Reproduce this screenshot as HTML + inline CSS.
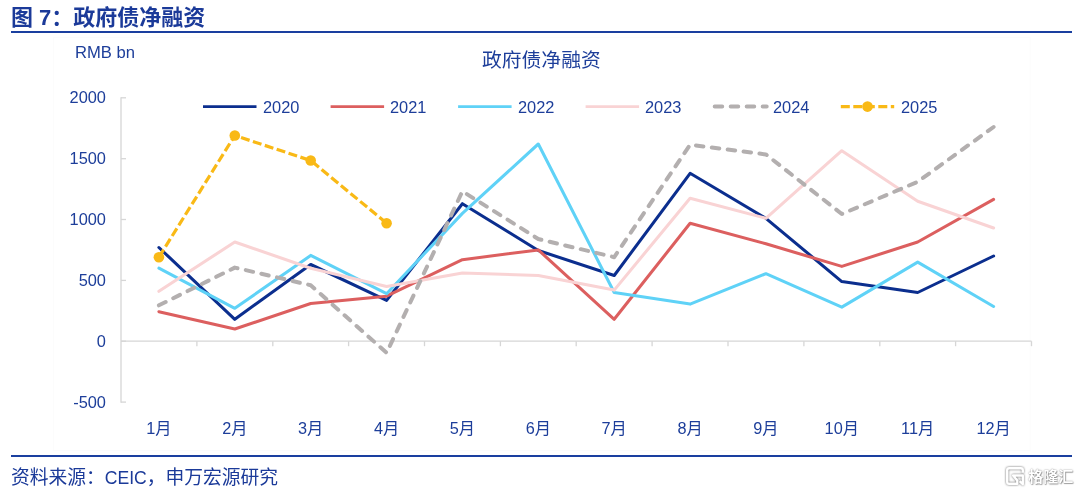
<!DOCTYPE html>
<html lang="zh"><head><meta charset="utf-8"><title>图 7：政府债净融资</title>
<style>
html,body{margin:0;padding:0;background:#fff;}
body{width:1080px;height:493px;position:relative;overflow:hidden;font-family:"Liberation Sans","Noto Sans CJK SC",sans-serif;color:#1d3e9a;}
.t{position:absolute;white-space:nowrap;line-height:1;}
.title{left:11px;top:6.5px;font-size:22px;font-weight:bold;color:#1b3a99;}
.rule{position:absolute;left:11px;width:1061.4px;height:2.2px;background:#1a3f9f;}
.yl{font-size:15.7px;width:60px;text-align:right;left:45.7px;transform:scaleX(1.045);transform-origin:100% 50%;}
.xl{font-size:16.3px;width:60px;text-align:center;}
.lg{font-size:15.7px;transform:scaleX(1.045);transform-origin:0 50%;}
.src{left:11px;top:469.1px;font-size:18.75px;color:#1b3a99;}
.wm{left:1028.3px;top:468.8px;font-size:15px;color:#fff;text-shadow:0 0 1.5px rgba(0,0,0,.55),0.6px 0.6px 1px rgba(0,0,0,.3);font-weight:bold;}
</style></head><body>
<div class="t title">图 7：政府债净融资</div>
<div class="rule" style="top:30.9px"></div>
<div class="rule" style="top:455px"></div>
<svg width="1080" height="493" viewBox="0 0 1080 493" style="position:absolute;left:0;top:0">
<rect x="53.5" y="37.5" width="976.5" height="413" fill="none" stroke="#fcfcfc" stroke-width="1"/>
<g stroke="#d6d6d6" stroke-width="1.3" fill="none">
<line x1="121.0" y1="97.2" x2="121.0" y2="402.7"/>
<line x1="121.0" y1="97.8" x2="126.0" y2="97.8"/>
<line x1="121.0" y1="158.7" x2="126.0" y2="158.7"/>
<line x1="121.0" y1="219.5" x2="126.0" y2="219.5"/>
<line x1="121.0" y1="280.4" x2="126.0" y2="280.4"/>
<line x1="121.0" y1="341.2" x2="126.0" y2="341.2"/>
<line x1="121.0" y1="402.1" x2="126.0" y2="402.1"/>
<line x1="121.0" y1="341.2" x2="1031.5" y2="341.2"/>
<line x1="196.9" y1="341.2" x2="196.9" y2="346.2"/>
<line x1="272.8" y1="341.2" x2="272.8" y2="346.2"/>
<line x1="348.6" y1="341.2" x2="348.6" y2="346.2"/>
<line x1="424.5" y1="341.2" x2="424.5" y2="346.2"/>
<line x1="500.4" y1="341.2" x2="500.4" y2="346.2"/>
<line x1="576.2" y1="341.2" x2="576.2" y2="346.2"/>
<line x1="652.1" y1="341.2" x2="652.1" y2="346.2"/>
<line x1="728.0" y1="341.2" x2="728.0" y2="346.2"/>
<line x1="803.9" y1="341.2" x2="803.9" y2="346.2"/>
<line x1="879.8" y1="341.2" x2="879.8" y2="346.2"/>
<line x1="955.6" y1="341.2" x2="955.6" y2="346.2"/>
<line x1="1031.5" y1="341.2" x2="1031.5" y2="346.2"/>
</g>
<polyline points="158.9,247.5 234.8,319.3 310.7,264.5 386.6,300.4 462.4,203.7 538.3,250.5 614.2,275.5 690.1,173.3 765.9,218.3 841.8,281.6 917.7,292.5 993.6,256.0" fill="none" stroke="#0b2e8e" stroke-width="3.05" stroke-linejoin="round" stroke-linecap="round"/>
<polyline points="158.9,311.7 234.8,329.0 310.7,303.5 386.6,296.2 462.4,259.7 538.3,249.9 614.2,319.3 690.1,223.2 765.9,243.8 841.8,266.4 917.7,242.0 993.6,199.4" fill="none" stroke="#dc5f5f" stroke-width="3.05" stroke-linejoin="round" stroke-linecap="round"/>
<polyline points="158.9,268.2 234.8,308.3 310.7,255.4 386.6,293.7 462.4,213.4 538.3,144.0 614.2,292.5 690.1,304.1 765.9,273.7 841.8,307.1 917.7,262.1 993.6,306.5" fill="none" stroke="#5fd2f7" stroke-width="3.05" stroke-linejoin="round" stroke-linecap="round"/>
<polyline points="158.9,291.3 234.8,242.0 310.7,268.2 386.6,286.4 462.4,273.0 538.3,275.5 614.2,290.1 690.1,198.2 765.9,218.3 841.8,150.7 917.7,201.2 993.6,228.0" fill="none" stroke="#f9d3d4" stroke-width="3.05" stroke-linejoin="round" stroke-linecap="round"/>
<polyline points="158.9,305.3 234.8,267.6 310.7,285.2 386.6,352.8 462.4,191.3 538.3,239.0 614.2,257.2 690.1,144.7 765.9,154.4 841.8,214.0 917.7,181.8 993.6,127.0" fill="none" stroke="#b3afaf" stroke-width="4" stroke-dasharray="7.5 8.5" stroke-linecap="round" stroke-linejoin="round"/>
<polyline points="158.9,257.2 234.8,135.5 310.7,160.5 386.6,223.2" fill="none" stroke="#f9b916" stroke-width="3.2" stroke-dasharray="9 3.5" stroke-linejoin="round"/>
<circle cx="158.9" cy="257.2" r="5.3" fill="#f9b916"/>
<circle cx="234.8" cy="135.5" r="5.3" fill="#f9b916"/>
<circle cx="310.7" cy="160.5" r="5.3" fill="#f9b916"/>
<circle cx="386.6" cy="223.2" r="5.3" fill="#f9b916"/>
<line x1="203.0" y1="106.6" x2="256.5" y2="106.6" stroke="#0b2e8e" stroke-width="2.9"/>
<line x1="330.6" y1="106.6" x2="384.1" y2="106.6" stroke="#dc5f5f" stroke-width="2.9"/>
<line x1="458.1" y1="106.6" x2="511.6" y2="106.6" stroke="#5fd2f7" stroke-width="2.9"/>
<line x1="585.6" y1="106.6" x2="639.1" y2="106.6" stroke="#f9d3d4" stroke-width="2.9"/>
<line x1="714.7" y1="106.6" x2="766.7" y2="106.6" stroke="#b3afaf" fill="none" stroke-width="4" stroke-dasharray="7.5 8.5" stroke-linecap="round" stroke-linejoin="round"/>
<line x1="840.8" y1="106.6" x2="894.2" y2="106.6" stroke="#f9b916" fill="none" stroke-width="3.2" stroke-dasharray="9 3.5" stroke-linejoin="round"/>
<circle cx="867.5" cy="106.6" r="5.3" fill="#f9b916"/>
</svg>
<div class="t" style="left:75px;top:45.2px;font-size:15.7px;transform:scaleX(1.06);transform-origin:0 50%">RMB bn</div>
<div class="t" style="left:482px;top:50.5px;font-size:19.8px">政府债净融资</div>
<div class="t yl" style="top:90.3px">2000</div>
<div class="t yl" style="top:151.2px">1500</div>
<div class="t yl" style="top:212.0px">1000</div>
<div class="t yl" style="top:272.9px">500</div>
<div class="t yl" style="top:333.7px">0</div>
<div class="t yl" style="top:394.6px">-500</div>
<div class="t xl" style="left:128.9px;top:419.5px">1月</div>
<div class="t xl" style="left:204.8px;top:419.5px">2月</div>
<div class="t xl" style="left:280.7px;top:419.5px">3月</div>
<div class="t xl" style="left:356.6px;top:419.5px">4月</div>
<div class="t xl" style="left:432.4px;top:419.5px">5月</div>
<div class="t xl" style="left:508.3px;top:419.5px">6月</div>
<div class="t xl" style="left:584.2px;top:419.5px">7月</div>
<div class="t xl" style="left:660.1px;top:419.5px">8月</div>
<div class="t xl" style="left:735.9px;top:419.5px">9月</div>
<div class="t xl" style="left:811.8px;top:419.5px">10月</div>
<div class="t xl" style="left:887.7px;top:419.5px">11月</div>
<div class="t xl" style="left:963.6px;top:419.5px">12月</div>
<div class="t lg" style="left:262.8px;top:99.5px">2020</div>
<div class="t lg" style="left:390.4px;top:99.5px">2021</div>
<div class="t lg" style="left:517.9px;top:99.5px">2022</div>
<div class="t lg" style="left:645.4px;top:99.5px">2023</div>
<div class="t lg" style="left:773.0px;top:99.5px">2024</div>
<div class="t lg" style="left:900.5px;top:99.5px">2025</div>
<div class="t src">资料来源：<span style="font-size:17.6px">CEIC</span>，申万宏源研究</div>
<svg width="22" height="22" viewBox="0 0 24 24" style="position:absolute;left:1004px;top:465px;filter:drop-shadow(0 0 0.8px rgba(0,0,0,.6))">
<path d="M20.5 8.5 V5.5 Q20.5 3.5 18.5 3.5 H5.5 Q3.5 3.5 3.5 5.5 V18.5 Q3.5 20.5 5.5 20.5 H14.5 V17 L10 11.5 H20.5 V21 L17 17.5" fill="none" stroke="#fff" stroke-width="2.6" stroke-linejoin="round"/>
</svg>
<div class="t wm">格隆汇</div>
</body></html>
